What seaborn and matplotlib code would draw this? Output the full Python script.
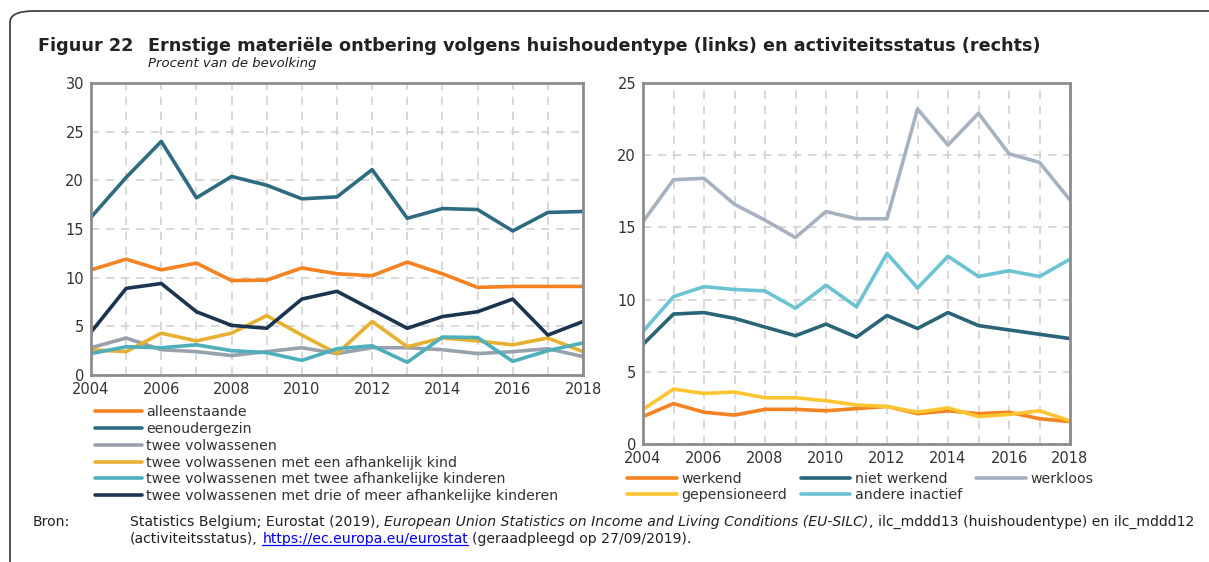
import numpy as np
import pandas as pd
import seaborn as sns
from matplotlib import pyplot as plt
from matplotlib.patches import FancyBboxPatch
from matplotlib.lines import Line2D

years = list(range(2004, 2019))

# left panel: huishoudentype
hh_labels = ['alleenstaande',
             'eenoudergezin',
             'twee volwassenen',
             'twee volwassenen met een afhankelijk kind',
             'twee volwassenen met twee afhankelijke kinderen',
             'twee volwassenen met drie of meer afhankelijke kinderen']
alleenstaande = [10.8, 11.9, 10.8, 11.5, 9.7, 9.75, 11.0, 10.4, 10.2, 11.6, 10.4, 9.0, 9.1, 9.1, 9.1]
eenoudergezin = [16.2, 20.3, 24.0, 18.2, 20.4, 19.5, 18.1, 18.3, 21.1, 16.1, 17.1, 17.0, 14.8, 16.7, 16.8]
twee_volw = [2.8, 3.8, 2.6, 2.4, 2.0, 2.4, 2.8, 2.2, 2.8, 2.8, 2.6, 2.2, 2.4, 2.7, 1.9]
een_kind = [2.6, 2.4, 4.3, 3.5, 4.3, 6.1, 4.1, 2.2, 5.5, 2.9, 3.8, 3.5, 3.1, 3.8, 2.4]
twee_kind = [2.2, 2.9, 2.8, 3.1, 2.5, 2.3, 1.5, 2.7, 3.0, 1.3, 3.9, 3.85, 1.4, 2.5, 3.3]
drie_kind = [4.4, 8.9, 9.4, 6.5, 5.1, 4.8, 7.8, 8.6, 6.7, 4.8, 6.0, 6.5, 7.8, 4.1, 5.5]
hh_colors = ['#F58220', '#2E6B80', '#98A1AC', '#E6B030', '#4DAEBC', '#1B3550']

# right panel: activiteitsstatus
act_labels = ['werkend', 'niet werkend', 'werkloos', 'gepensioneerd', 'andere inactief']
werkend = [1.9, 2.8, 2.2, 2.0, 2.4, 2.4, 2.3, 2.45, 2.6, 2.1, 2.3, 2.1, 2.2, 1.75, 1.55]
niet_werkend = [6.9, 9.0, 9.1, 8.7, 8.1, 7.5, 8.3, 7.4, 8.9, 8.0, 9.1, 8.2, 7.9, 7.6, 7.3]
werkloos = [15.4, 18.3, 18.4, 16.6, 15.5, 14.3, 16.1, 15.6, 15.6, 23.2, 20.7, 22.9, 20.1, 19.5, 16.9]
gepensioneerd = [2.4, 3.8, 3.5, 3.6, 3.2, 3.2, 3.0, 2.7, 2.6, 2.2, 2.5, 1.9, 2.05, 2.3, 1.6]
andere_inactief = [7.8, 10.2, 10.9, 10.7, 10.6, 9.4, 11.0, 9.5, 13.2, 10.8, 13.0, 11.6, 12.0, 11.6, 12.8]
act_colors = ['#F58220', '#2A6479', '#A6B2C0', '#FFC530', '#6CC3D3']

sns.set_style('white')
plt.rcParams['font.family'] = ['DejaVu Sans']
TXT = '#333333'
GRID = '#D2D2D2'
SPINE = '#8C8C8C'

W, H = 1209, 562
fig = plt.figure(figsize=(W / 100, H / 100), dpi=100)


def px_axes(x0, y0, x1, y1):
    return fig.add_axes([x0 / W, 1 - y1 / H, (x1 - x0) / W, (y1 - y0) / H])


def style_axes(ax, ymax):
    ax.set_xlim(2004, 2018)
    ax.set_ylim(0, ymax)
    ax.set_xticks(range(2004, 2019, 2))
    ax.set_xticks(range(2004, 2019), minor=True)
    ax.set_yticks(range(0, ymax + 1, 5))
    ax.grid(True, which='both', axis='x', color=GRID, ls=(0, (5, 4)), lw=1.2)
    ax.grid(True, which='major', axis='y', color=GRID, ls=(0, (5, 4)), lw=1.2)
    ax.set_axisbelow(True)
    for s in ax.spines.values():
        s.set_color(SPINE)
        s.set_linewidth(2)
    ax.tick_params(axis='both', which='both', colors=SPINE, labelcolor=TXT,
                   labelsize=10.5, length=4, width=1.2, direction='out', pad=1)
    ax.set_xlabel('')
    ax.set_ylabel('')


ax1 = px_axes(91, 83, 583, 375)
for vals, lab, col in zip([alleenstaande, eenoudergezin, twee_volw, een_kind, twee_kind, drie_kind],
                          hh_labels, hh_colors):
    sns.lineplot(x=years, y=vals, ax=ax1, color=col, lw=2.6, label=lab, legend=False)
style_axes(ax1, 30)

ax2 = px_axes(643, 83, 1070, 444)
for vals, lab, col in zip([werkend, niet_werkend, werkloos, gepensioneerd, andere_inactief],
                          act_labels, act_colors):
    sns.lineplot(x=years, y=vals, ax=ax2, color=col, lw=2.6, label=lab, legend=False)
style_axes(ax2, 25)

# legends
h1, l1 = ax1.get_legend_handles_labels()
fig.legend(h1, l1, loc='upper left', bbox_to_anchor=(88 / W, 1 - 398 / H), frameon=False,
           fontsize=10.2, handlelength=3.3, handletextpad=0.3, labelspacing=0.2,
           borderpad=0, labelcolor=TXT)

h2, l2 = ax2.get_legend_handles_labels()
order = [0, 3, 1, 4, 2]
fig.legend([h2[i] for i in order], [l2[i] for i in order], loc='upper left',
           bbox_to_anchor=(620 / W, 1 - 465 / H), ncol=3, frameon=False,
           fontsize=10.2, handlelength=3.5, handletextpad=0.3, labelspacing=0.15,
           columnspacing=1.0, borderpad=0, labelcolor=TXT)

# outer frame
frame = FancyBboxPatch((10 / W, -0.2), 1.2, 1.2 - 11 / H, boxstyle='round,pad=0,rounding_size=0.02',
                       transform=fig.transFigure, fill=False, ec='#444444', lw=1.3, clip_on=False)
fig.add_artist(frame)

# title
fig.text(38 / W, 1 - 51 / H, 'Figuur 22', fontsize=12.7, fontweight='bold', color='#222222', va='baseline')
fig.text(148 / W, 1 - 51 / H, 'Ernstige materiële ontbering volgens huishoudentype (links) en activiteitsstatus (rechts)',
         fontsize=12.7, fontweight='bold', color='#222222', va='baseline')
fig.text(148 / W, 1 - 67 / H, 'Procent van de bevolking', fontsize=9.5, style='italic', color='#222222',
         va='baseline')

# source
renderer = fig.canvas.get_renderer()
SRC = 10.1


def chain(x_px, y_px, parts, size=SRC):
    x = x_px / W
    space = None
    for text, kw in parts:
        t = fig.text(x, 1 - y_px / H, text, fontsize=size, color=kw.get('color', '#222222'),
                     style=kw.get('style', 'normal'), va='baseline')
        bb = t.get_window_extent(renderer)
        if kw.get('underline'):
            fig.add_artist(Line2D([bb.x0 / W, bb.x1 / W], [(H - y_px - 2) / H] * 2,
                                  color=kw.get('color'), lw=0.9, transform=fig.transFigure))
        if space is None:
            tmp = fig.text(0, 0, 'a a', fontsize=size)
            tmp2 = fig.text(0, 0, 'aa', fontsize=size)
            space = (tmp.get_window_extent(renderer).width - tmp2.get_window_extent(renderer).width) / W
            tmp.remove()
            tmp2.remove()
        x = bb.x1 / W + (space if kw.get('gap', True) else 0)


fig.text(33 / W, 1 - 526 / H, 'Bron:', fontsize=SRC, color='#222222', va='baseline')
chain(130, 526, [('Statistics Belgium; Eurostat (2019),', {}),
                 ('European Union Statistics on Income and Living Conditions (EU-SILC)', {'style': 'italic', 'gap': False}),
                 (', ilc_mddd13 (huishoudentype) en ilc_mddd12', {})])
chain(130, 543, [('(activiteitsstatus),', {}),
                 ('https://ec.europa.eu/eurostat', {'color': '#0000EE', 'underline': True}),
                 ('(geraadpleegd op 27/09/2019).', {})])

plt.savefig('out.png', dpi=100)
